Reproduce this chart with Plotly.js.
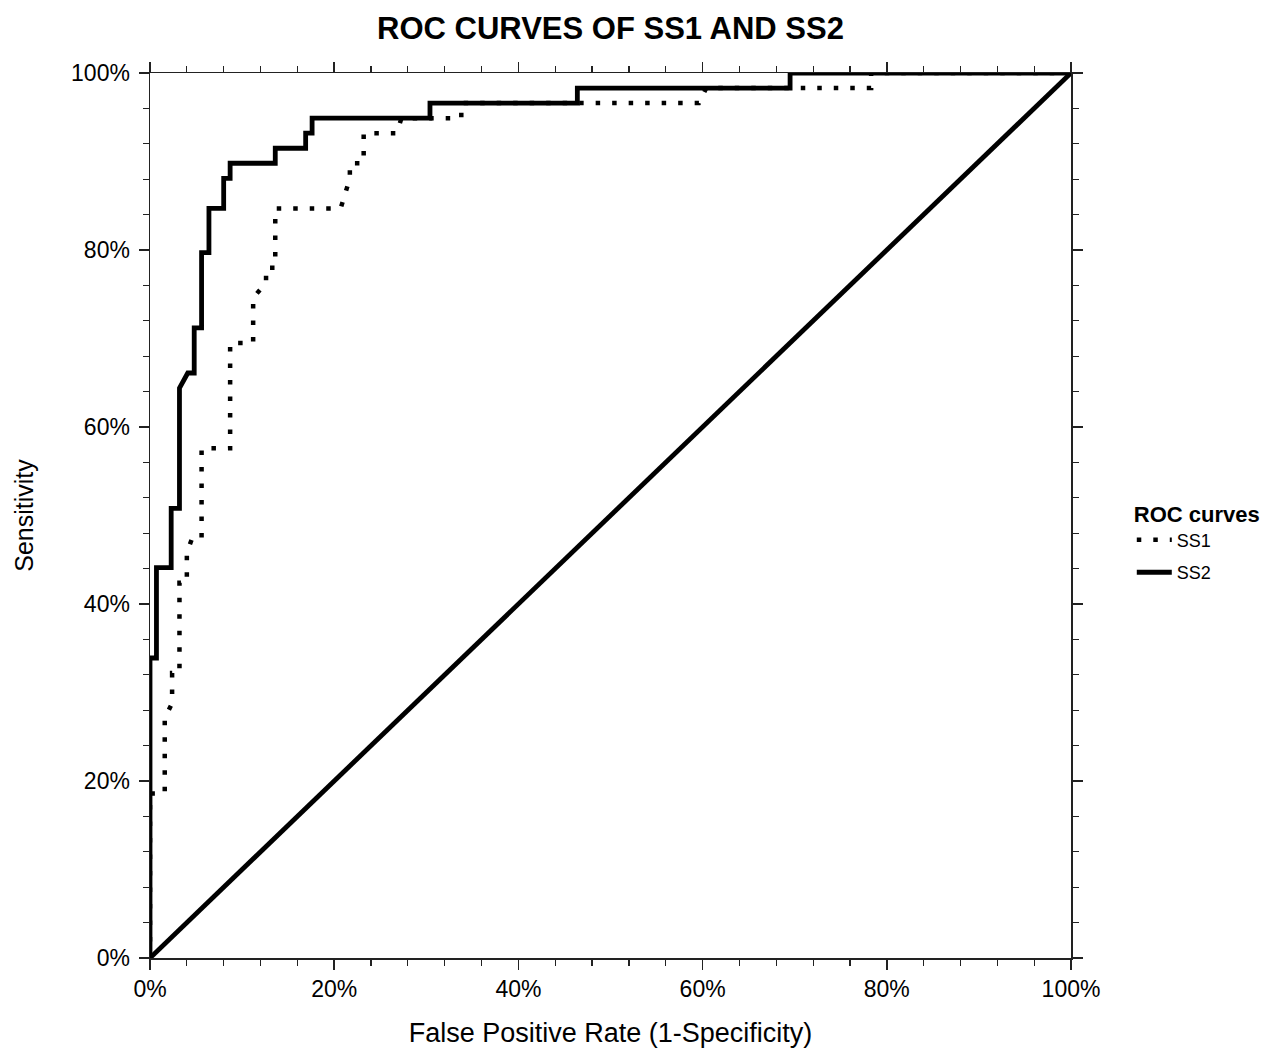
<!DOCTYPE html>
<html>
<head>
<meta charset="utf-8">
<script src="https://cdn.plot.ly/plotly-3.0.1.min.js"></script>
<style>
  html, body { margin: 0; padding: 0; background: #fff; }
  #chart { width: 1282px; height: 1048px; }
</style>
</head>
<body>
<div id="chart"></div>
<script>
// ROC curve points (percent)
const ss1Fpr = [0, 0, 1.6, 1.6, 2.4, 2.4, 3.2, 3.2, 4.0, 4.0, 4.6, 5.6, 5.6, 8.7, 8.7, 11.2, 11.2, 12.6, 12.6, 13.6, 13.6, 20.7, 21.7, 21.7, 23.2, 23.2, 26.8, 27.3, 33.8, 33.8, 59.6, 60.4, 78.3, 78.3, 100];
const ss1Tpr = [0, 18.6, 18.6, 27.1, 28.8, 32.2, 32.2, 42.4, 42.4, 45.8, 47.5, 47.5, 57.6, 57.6, 69.5, 69.5, 74.6, 76.3, 78.0, 78.0, 84.7, 84.7, 88.1, 89.8, 89.8, 93.2, 93.2, 94.9, 94.9, 96.6, 96.6, 98.3, 98.3, 100, 100];

const ss2Fpr = [0, 0, 0.7, 0.7, 2.3, 2.3, 3.2, 3.2, 4.1, 4.8, 4.8, 5.6, 5.6, 6.4, 6.4, 8.0, 8.0, 8.7, 8.7, 13.6, 13.6, 16.9, 16.9, 17.6, 17.6, 30.4, 30.4, 46.4, 46.4, 69.5, 69.5, 100];
const ss2Tpr = [0, 33.9, 33.9, 44.1, 44.1, 50.8, 50.8, 64.4, 66.1, 66.1, 71.2, 71.2, 79.7, 79.7, 84.7, 84.7, 88.1, 88.1, 89.8, 89.8, 91.5, 91.5, 93.2, 93.2, 94.9, 94.9, 96.6, 96.6, 98.3, 98.3, 100, 100];

const refFpr = [0, 100];
const refTpr = [0, 100];

const seriesNames = ['SS1', 'SS2'];
const tickVals = [0, 20, 40, 60, 80, 100];

const pct = a => a.map(v => v / 100);

const traces = [
  { x: pct(refFpr), y: pct(refTpr), mode: 'lines', showlegend: false, hoverinfo: 'skip',
    line: { color: '#000', width: 4.8 }, cliponaxis: false },
  { x: pct(ss1Fpr), y: pct(ss1Tpr), mode: 'lines', name: seriesNames[0], legendgroup: 'a',
    line: { color: '#000', width: 4.5, dash: '4.5px,12px' }, cliponaxis: false },
  { x: pct(ss2Fpr), y: pct(ss2Tpr), mode: 'lines', name: seriesNames[1], legendgroup: 'b',
    line: { color: '#000', width: 4.8 }, cliponaxis: false }
];

const FONT = 'Liberation Sans, Arial, sans-serif';
const axisCommon = {
  range: [0, 1],
  tickvals: pct(tickVals),
  tickformat: '.0%',
  ticks: 'outside',
  ticklen: 10,
  tickwidth: 1.5,
  tickcolor: '#222',
  showline: true,
  linecolor: '#222',
  linewidth: 1.5,
  mirror: 'ticks',
  showgrid: false,
  zeroline: false,
  tickfont: { family: FONT, size: 23, color: '#000' },
  minor: { dtick: 0.04, tick0: 0, ticks: 'outside', ticklen: 6, tickwidth: 1.2, tickcolor: '#222', showgrid: false },
  automargin: false,
  fixedrange: true
};

const layout = {
  width: 1282,
  height: 1048,
  paper_bgcolor: '#fff',
  plot_bgcolor: '#fff',
  margin: { l: 150, r: 211, t: 73, b: 90 },
  font: { family: FONT, color: '#000' },
  title: {
    text: 'ROC CURVES OF SS1 AND SS2',
    font: { family: FONT, size: 31, weight: 'bold', color: '#000' },
    xref: 'paper', x: 0.5, xanchor: 'center',
    yref: 'container', y: 1 - 28 / 1048, yanchor: 'middle'
  },
  xaxis: Object.assign({}, axisCommon, {
    title: { text: 'False Positive Rate (1-Specificity)', font: { family: FONT, size: 27, color: '#000' }, standoff: 26 }
  }),
  yaxis: Object.assign({}, axisCommon, {
    ticklabelstandoff: 4,
    title: { text: 'Sensitivity', font: { family: FONT, size: 25, color: '#000' }, standoff: 30 }
  }),
  showlegend: true,
  legend: {
    x: 1.066, xanchor: 'left',
    y: 0.47, yanchor: 'middle',
    bgcolor: 'rgba(0,0,0,0)',
    borderwidth: 0,
    font: { family: FONT, size: 18, color: '#000' },
    title: { text: 'ROC curves', side: 'top', font: { family: FONT, size: 22, weight: 'bold', color: '#000' } },
    traceorder: 'grouped',
    tracegroupgap: 6,
    itemwidth: 35
  }
};

Plotly.newPlot('chart', traces, layout, { displayModeBar: false, staticPlot: true });
</script>
</body>
</html>
